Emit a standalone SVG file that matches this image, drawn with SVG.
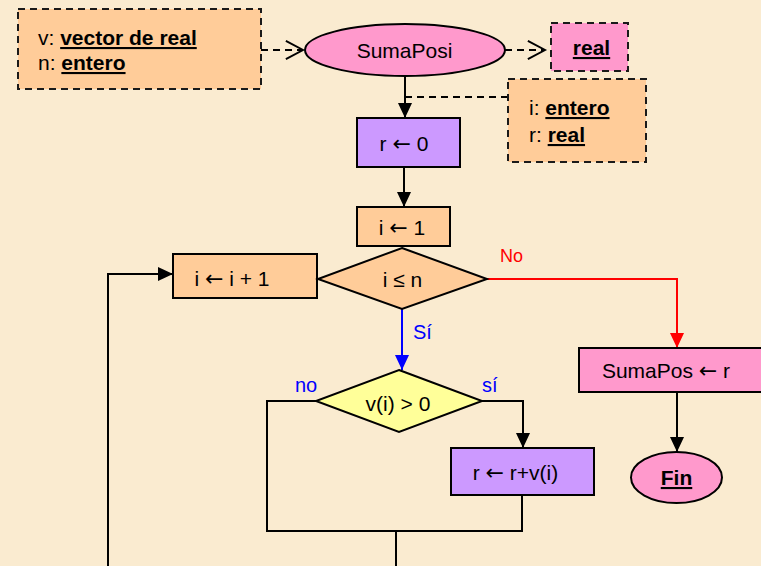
<svg xmlns="http://www.w3.org/2000/svg" width="761" height="566" viewBox="0 0 761 566">
  <style>
    text { font-family: "Liberation Sans", Arial, "DejaVu Sans", sans-serif; font-size: 21px; fill: #000; }
    .c { text-anchor: middle; }
    .b { font-weight: bold; text-decoration: underline; }
    .arr { font-family: "DejaVu Sans", sans-serif; font-size: 22px; }
    .box { stroke: #000; stroke-width: 2; }
    .dash { stroke: #1a1a1a; stroke-width: 2; stroke-dasharray: 7 5; }
    .peach { fill: #FFCC99; }
    .pink { fill: #FF99CC; }
    .lilac { fill: #CC99FF; }
    .yellow { fill: #FFFF99; }
    .ln { fill: none; stroke: #000; stroke-width: 2; }
    .lnDash { fill: none; stroke: #000; stroke-width: 2; stroke-dasharray: 7 5; }
    .lnBlue { fill: none; stroke: #0000FF; stroke-width: 2; }
    .lnRed { fill: none; stroke: #FF0000; stroke-width: 2; }
    .lblBlue { fill: #0000FF; font-size: 20px; }
    .lblRed { fill: #FF0000; font-size: 18px; }
  </style>
  <defs>
    <marker id="tri" markerUnits="userSpaceOnUse" markerWidth="16" markerHeight="16" viewBox="0 0 16 16" refX="15" refY="8" orient="auto">
      <path d="M0,1 L15,8 L0,15 Z" fill="#000"/>
    </marker>
    <marker id="triBlue" markerUnits="userSpaceOnUse" markerWidth="16" markerHeight="16" viewBox="0 0 16 16" refX="15" refY="8" orient="auto">
      <path d="M0,1 L15,8 L0,15 Z" fill="#0000FF"/>
    </marker>
    <marker id="triRed" markerUnits="userSpaceOnUse" markerWidth="16" markerHeight="16" viewBox="0 0 16 16" refX="15" refY="8" orient="auto">
      <path d="M0,1 L15,8 L0,15 Z" fill="#FF0000"/>
    </marker>
    <marker id="open" markerUnits="userSpaceOnUse" markerWidth="20" markerHeight="22" viewBox="-1 -1 21 22" refX="18" refY="10" orient="auto" style="overflow:visible">
      <path d="M0,0.5 L18,10 L0,19.5" fill="none" stroke="#000" stroke-width="2"/>
    </marker>
  </defs>

  <!-- page background -->
  <rect width="761" height="566" fill="#FAEBD0"/>

  <!-- connectors -->
  <g id="connectors">
    <path class="lnDash" d="M261,50 H303" marker-end="url(#open)"/>
    <path class="lnDash" d="M505,50 H545" marker-end="url(#open)"/>
    <path class="ln" d="M405,76 V118" marker-end="url(#tri)"/>
    <path class="lnDash" d="M508,97 H405"/>
    <path class="ln" d="M404,167 V207" marker-end="url(#tri)"/>
    <path class="lnBlue" d="M402,309 V370" marker-end="url(#triBlue)"/>
    <path class="lnRed" d="M487,279 H677 V348" marker-end="url(#triRed)"/>
    <path class="ln" d="M677,392 V452" marker-end="url(#tri)"/>
    <path class="ln" d="M482,401 H523 V448" marker-end="url(#tri)"/>
    <path class="ln" d="M522,495 V531 H267 V401 H316"/>
    <path class="ln" d="M396,531 V566"/>
    <path class="ln" d="M108,566 V274 H173" marker-end="url(#tri)"/>
  </g>

  <!-- parameters -->
  <g id="params">
    <rect class="peach dash" x="18" y="9" width="243" height="80"/>
    <text x="38" y="45">v: <tspan class="b">vector de real</tspan></text>
    <text x="38" y="70">n: <tspan class="b">entero</tspan></text>
  </g>

  <g id="start">
    <ellipse class="pink box" cx="405" cy="50" rx="100" ry="26"/>
    <text class="c" x="404.5" y="58">SumaPosi</text>
  </g>

  <g id="returnType">
    <rect class="pink dash" x="551" y="23" width="77" height="48"/>
    <text class="c b" x="591.5" y="55">real</text>
  </g>

  <g id="locals">
    <rect class="peach dash" x="508" y="79" width="138" height="83"/>
    <text x="529" y="115">i: <tspan class="b">entero</tspan></text>
    <text x="529" y="142">r: <tspan class="b">real</tspan></text>
  </g>

  <g id="initR">
    <rect class="lilac box" x="357" y="118" width="103" height="49"/>
    <text class="c" x="404" y="151">r <tspan class="arr">←</tspan> 0</text>
  </g>

  <g id="initI">
    <rect class="peach box" x="357" y="207" width="93" height="39"/>
    <text class="c" x="402" y="235">i <tspan class="arr">←</tspan> 1</text>
  </g>

  <g id="incI">
    <rect class="peach box" x="173" y="254" width="144" height="44"/>
    <text class="c" x="232" y="286">i <tspan class="arr">←</tspan> i + 1</text>
  </g>

  <g id="loopTest">
    <polygon class="peach box" points="402,248 487,279 402,309 318,279"/>
    <text class="c" x="402.5" y="287">i ≤ n</text>
  </g>

  <g id="posTest">
    <polygon class="yellow box" points="399,370 482,401 399,432 316,401"/>
    <text class="c" x="398" y="411">v(i) &gt; 0</text>
  </g>

  <g id="accum">
    <rect class="lilac box" x="451" y="448" width="143" height="47"/>
    <text class="c" x="515.5" y="480">r <tspan class="arr">←</tspan> r+v(i)</text>
  </g>

  <g id="assignResult">
    <rect class="pink box" x="579" y="348" width="185" height="44"/>
    <text class="c" x="666" y="378">SumaPos <tspan class="arr">←</tspan> r</text>
  </g>

  <g id="end">
    <ellipse class="pink box" cx="676.5" cy="477.5" rx="45.5" ry="25.5"/>
    <text class="c b" x="676.5" y="485">Fin</text>
  </g>

  <!-- branch labels -->
  <g id="labels">
    <text class="lblRed" x="500" y="262">No</text>
    <text class="lblBlue" x="413" y="339">Sí</text>
    <text class="lblBlue" x="295" y="392">no</text>
    <text class="lblBlue" x="482" y="392">sí</text>
  </g>
</svg>
